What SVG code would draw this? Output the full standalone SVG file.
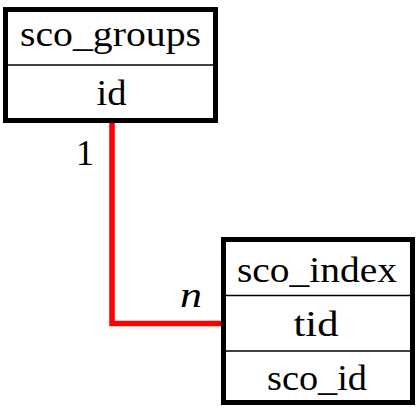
<svg xmlns="http://www.w3.org/2000/svg" width="420" height="420" viewBox="0 0 420 420">
<style>
.box{fill:#fff;stroke:#000;stroke-width:5}
.div{stroke:#000;stroke-width:1.5}
.t{font-family:"Liberation Serif","DejaVu Serif",serif;font-size:36px;fill:#000;text-anchor:middle}
.conn{fill:none;stroke:#ff0000;stroke-width:5.5}
.lbl{font-family:"Liberation Serif","DejaVu Serif",serif;font-size:36px;fill:#000}
</style>
<rect width="420" height="420" fill="#fff"/>
<g id="connectors">
<polyline class="conn" points="112,121 112,323.5 222,323.5"/>
<text class="lbl" x="76" y="165">1</text>
<text class="lbl" x="180" y="307" font-style="italic" textLength="22" lengthAdjust="spacingAndGlyphs">n</text>
</g>
<g id="sco_groups">
<rect class="box" x="5.5" y="9.5" width="210" height="111"/>
<line class="div" x1="5.5" y1="65" x2="215.5" y2="65"/>
<text class="t" x="110.5" y="46" textLength="181" lengthAdjust="spacingAndGlyphs">sco_groups</text>
<text class="t" x="111.5" y="105" textLength="30" lengthAdjust="spacingAndGlyphs">id</text>
</g>
<g id="sco_index">
<rect class="box" x="223.5" y="239.5" width="189" height="163"/>
<line class="div" x1="223.5" y1="295.5" x2="412.5" y2="295.5"/>
<line class="div" x1="223.5" y1="351" x2="412.5" y2="351"/>
<text class="t" x="317" y="282" textLength="160" lengthAdjust="spacingAndGlyphs">sco_index</text>
<text class="t" x="316" y="336" textLength="45" lengthAdjust="spacingAndGlyphs">tid</text>
<text class="t" x="317" y="390" textLength="100" lengthAdjust="spacingAndGlyphs">sco_id</text>
</g>
</svg>
